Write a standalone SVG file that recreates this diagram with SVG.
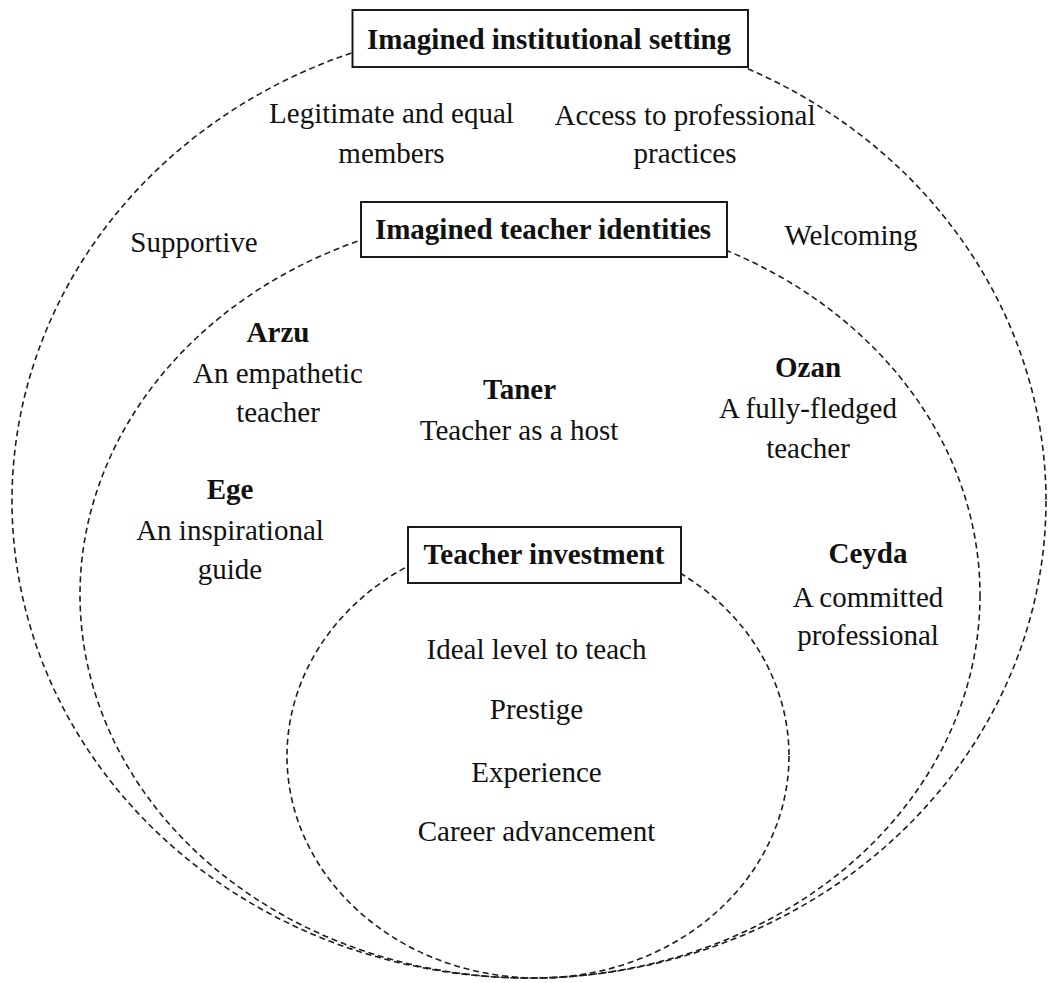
<svg xmlns="http://www.w3.org/2000/svg" width="1057" height="983" viewBox="0 0 1057 983">
  <style>
    .ring { fill: none; stroke: #1e1e1e; stroke-width: 1.6; stroke-dasharray: 6 3.8; }
    .box { fill: #ffffff; stroke: #111111; stroke-width: 1.9; }
    text { font-family: "Liberation Serif", "Times New Roman", serif; font-size: 29px; fill: #111111; text-anchor: middle; }
    .head { font-weight: bold; }
  </style>

  <!-- nested dashed rings, all touching at the bottom -->
  <g id="connectors">
    <ellipse id="ring-setting" class="ring" cx="529" cy="501" rx="517" ry="477"/>
    <ellipse id="ring-identities" class="ring" cx="530" cy="595" rx="450" ry="383"/>
    <ellipse id="ring-investment" class="ring" cx="538" cy="756" rx="251" ry="222"/>
  </g>

  <!-- outer ring: institutional setting -->
  <g id="node-setting">
    <rect class="box" x="352.5" y="10" width="395.5" height="57"/>
    <text class="head" x="549" y="49">Imagined institutional setting</text>
    <text x="391.5" y="123">Legitimate and equal</text>
    <text x="391.5" y="163">members</text>
    <text x="685" y="125">Access to professional</text>
    <text x="685" y="163">practices</text>
    <text x="194" y="252">Supportive</text>
    <text x="851" y="245">Welcoming</text>
  </g>

  <!-- middle ring: teacher identities -->
  <g id="node-identities">
    <rect class="box" x="361" y="202" width="366" height="55"/>
    <text class="head" x="543" y="239">Imagined teacher identities</text>
  </g>

  <g id="node-arzu">
    <text class="head" x="278" y="342">Arzu</text>
    <text x="278" y="383">An empathetic</text>
    <text x="278" y="422">teacher</text>
  </g>

  <g id="node-taner">
    <text class="head" x="519.5" y="399">Taner</text>
    <text x="519" y="440">Teacher as a host</text>
  </g>

  <g id="node-ozan">
    <text class="head" x="808" y="377">Ozan</text>
    <text x="808" y="418">A fully-fledged</text>
    <text x="808" y="458">teacher</text>
  </g>

  <g id="node-ege">
    <text class="head" x="230" y="499">Ege</text>
    <text x="230" y="540">An inspirational</text>
    <text x="230" y="579">guide</text>
  </g>

  <g id="node-ceyda">
    <text class="head" x="868" y="563">Ceyda</text>
    <text x="868" y="607">A committed</text>
    <text x="868" y="645">professional</text>
  </g>

  <!-- inner ring: teacher investment -->
  <g id="node-investment">
    <rect class="box" x="408" y="527" width="273" height="56"/>
    <text class="head" x="544" y="564">Teacher investment</text>
    <text x="536.5" y="659">Ideal level to teach</text>
    <text x="536.5" y="719">Prestige</text>
    <text x="536.5" y="782">Experience</text>
    <text x="536.5" y="841">Career advancement</text>
  </g>
</svg>
